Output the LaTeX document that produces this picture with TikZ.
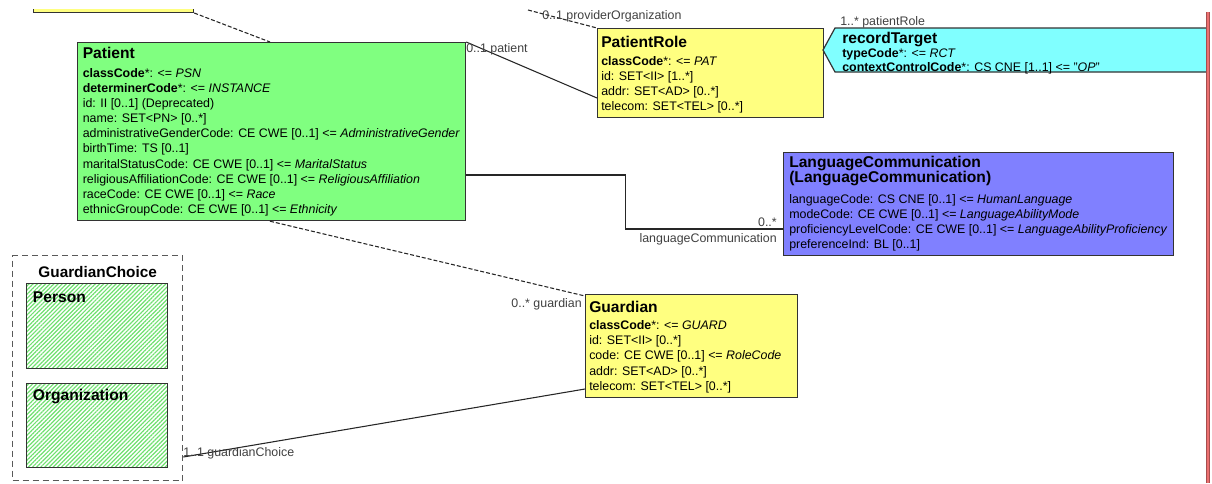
\documentclass[tikz,border=0pt]{standalone}
\usepackage{fontspec}
\setmainfont{Liberation Sans}
\usepackage{tikz}
\usetikzlibrary{calc,patterns.meta}

\definecolor{clsgreen}{HTML}{80FF80}
\definecolor{clsyellow}{HTML}{FFFF80}
\definecolor{clscyan}{HTML}{80FFFF}
\definecolor{clsblue}{HTML}{8080FF}
\definecolor{hatchgreen}{HTML}{6FE06F}
\definecolor{edgered}{HTML}{EC7070}
\definecolor{labelgray}{HTML}{404040}

\tikzset{
  clsbox/.style={draw=black!80, line width=0.9pt, inner sep=0pt, anchor=north west},
  choicebox/.style={clsbox, pattern={Lines[angle=45,distance=2.2pt,line width=0.9pt]}, pattern color=hatchgreen},
  clstitle/.style={anchor=base west, inner sep=0pt, font=\fontsize{11.7}{14}\selectfont\bfseries},
  attr/.style={anchor=base west, inner sep=0pt, font=\fontsize{9.3}{11}\selectfont},
  rolename/.style={inner sep=0pt, text=labelgray, font=\fontsize{9.3}{11}\selectfont},
  assoc/.style={draw=black!85, line width=0.8pt},
  dashassoc/.style={assoc, dash pattern=on 3pt off 1.5pt}
}

\begin{document}
\begin{tikzpicture}[x=0.75pt, y=-0.75pt]
\useasboundingbox (0,0) rectangle (1212,483);
\clip (0,9.5) rectangle (1212,483);

% class boxes
\node[clsbox, fill=clsyellow, minimum width=120pt, minimum height=30pt, anchor=south west] (upper) at (33,13) {};
\node[clsbox, fill=clsgreen, minimum width=291pt, minimum height=133.5pt] (patient) at (77,42) {};
\node[clsbox, fill=clsyellow, minimum width=169.5pt, minimum height=66.75pt] (role) at (597,28) {};
\node[clsbox, fill=clsblue, minimum width=292.5pt, minimum height=77.25pt] (lang) at (783,152) {};
\node[clsbox, fill=clsyellow, minimum width=159pt, minimum height=77.25pt] (guardian) at (585,294) {};
\node[clsbox, draw=black!65, line width=1pt, dash pattern=on 4.5pt off 3pt, minimum width=127.5pt, minimum height=168.75pt] (choice) at (12,255) {};
\node[choicebox, minimum width=105.75pt, minimum height=63.75pt] (person) at (26,283) {};
\node[choicebox, minimum width=105.75pt, minimum height=63pt] (org) at (26,383) {};

% recordTarget act relationship
\draw[draw=black!80, line width=0.9pt, fill=clscyan] (835,28) -- (1208,28) -- (1208,72) -- (835,72) -- (823,50) -- cycle;
\draw[edgered!70!black, line width=2.6pt] (1208,12) -- (1208,483);
\draw[edgered, line width=1.6pt] (1208,12) -- (1208,483);

% connectors
\coordinate (provider) at (528,10);
\draw[dashassoc] (provider) -- (role.north west);
\draw[dashassoc] (upper.south east) -- ($(patient.north west)+(193,0)$);
\draw[dashassoc] ($(patient.south west)+(193,0)$) -- ($(guardian.north west)+(0,2)$);
\draw[assoc] (patient.north east) -- ($(role.north west)+(0,70)$);
\draw[assoc] ($(patient.north east)+(0,133)$) -- ++(159,0) |- ($(lang.north west)+(0,77)$);
\draw[assoc] ($(choice.north east)+(0,202)$) -- ($(guardian.north west)+(0,95)$);

% role names
\node[rolename, anchor=base west] (lbl-provider) at (542,19.4) {0..1 providerOrganization};
\node[rolename, anchor=base west] (lbl-patient) at (466,52.7) {0..1 patient};
\node[rolename, anchor=base west] (lbl-role) at (840,25.1) {1..* patientRole};
\node[rolename, anchor=base east] (lbl-langmult) at (777,226.1) {0..*};
\node[rolename, anchor=base east] (lbl-lang) at (777,242.7) {languageCommunication};
\node[rolename, anchor=base east] (lbl-guardian) at (582,307.1) {0..* guardian};
\node[rolename, anchor=base west] (lbl-choice) at (183,456.1) {1..1 guardianChoice};

% Patient
\node[clstitle] (patient-title) at ($(patient.north west)+(5.5,16.9)$) {Patient};
\foreach \txt [count=\i from 0] in {
  {\textbf{classCode}*: <= \textit{PSN}},
  {\textbf{determinerCode}*: <= \textit{INSTANCE}},
  {id: II [0..1] (Deprecated)},
  {name: SET<PN> [0..*]},
  {administrativeGenderCode: CE CWE [0..1] <= \textit{AdministrativeGender}},
  {birthTime: TS [0..1]},
  {maritalStatusCode: CE CWE [0..1] <= \textit{MaritalStatus}},
  {religiousAffiliationCode: CE CWE [0..1] <= \textit{ReligiousAffiliation}},
  {raceCode: CE CWE [0..1] <= \textit{Race}},
  {ethnicGroupCode: CE CWE [0..1] <= \textit{Ethnicity}}}
  \node[attr] (patient-\i) at ($(patient.north west)+(5.5,35.1+15.15*\i)$) {\txt};

% PatientRole
\node[clstitle] (role-title) at ($(role.north west)+(4,19.3)$) {PatientRole};
\foreach \txt [count=\i from 0] in {
  {\textbf{classCode}*: <= \textit{PAT}},
  {id: SET<II> [1..*]},
  {addr: SET<AD> [0..*]},
  {telecom: SET<TEL> [0..*]}}
  \node[attr] (role-\i) at ($(role.north west)+(4,37.4+15*\i)$) {\txt};

% recordTarget
\node[clstitle] (target-title) at (842,43.9) {recordTarget};
\node[attr] (target-0) at (842,57.7) {\textbf{typeCode}*: <= \textit{RCT}};
\node[attr] (target-1) at (842,71.1) {\textbf{contextControlCode}*: CS CNE [1..1] <= "\textit{OP}"};

% LanguageCommunication
\node[clstitle] (lang-title) at ($(lang.north west)+(6,15.3)$) {LanguageCommunication};
\node[clstitle] (lang-title2) at ($(lang.north west)+(6,30.3)$) {(LanguageCommunication)};
\foreach \txt [count=\i from 0] in {
  {languageCode: CS CNE [0..1] <= \textit{HumanLanguage}},
  {modeCode: CE CWE [0..1] <= \textit{LanguageAbilityMode}},
  {proficiencyLevelCode: CE CWE [0..1] <= \textit{LanguageAbilityProficiency}},
  {preferenceInd: BL [0..1]}}
  \node[attr] (lang-\i) at ($(lang.north west)+(6,51.7+14.9*\i)$) {\txt};

% Guardian
\node[clstitle] (guardian-title) at ($(guardian.north west)+(4,18.3)$) {Guardian};
\foreach \txt [count=\i from 0] in {
  {\textbf{classCode}*: <= \textit{GUARD}},
  {id: SET<II> [0..*]},
  {code: CE CWE [0..1] <= \textit{RoleCode}},
  {addr: SET<AD> [0..*]},
  {telecom: SET<TEL> [0..*]}}
  \node[attr] (guardian-\i) at ($(guardian.north west)+(4,35.4+15.2*\i)$) {\txt};

% GuardianChoice
\node[clstitle, anchor=base, font=\fontsize{11.5}{14}\selectfont\bfseries] (choice-title) at ($(choice.north)+(0,22.3)$) {GuardianChoice};
\node[clstitle] (person-title) at ($(person.north west)+(6.7,19.3)$) {Person};
\node[clstitle] (org-title) at ($(org.north west)+(6.7,17.6)$) {Organization};
\end{tikzpicture}
\end{document}
